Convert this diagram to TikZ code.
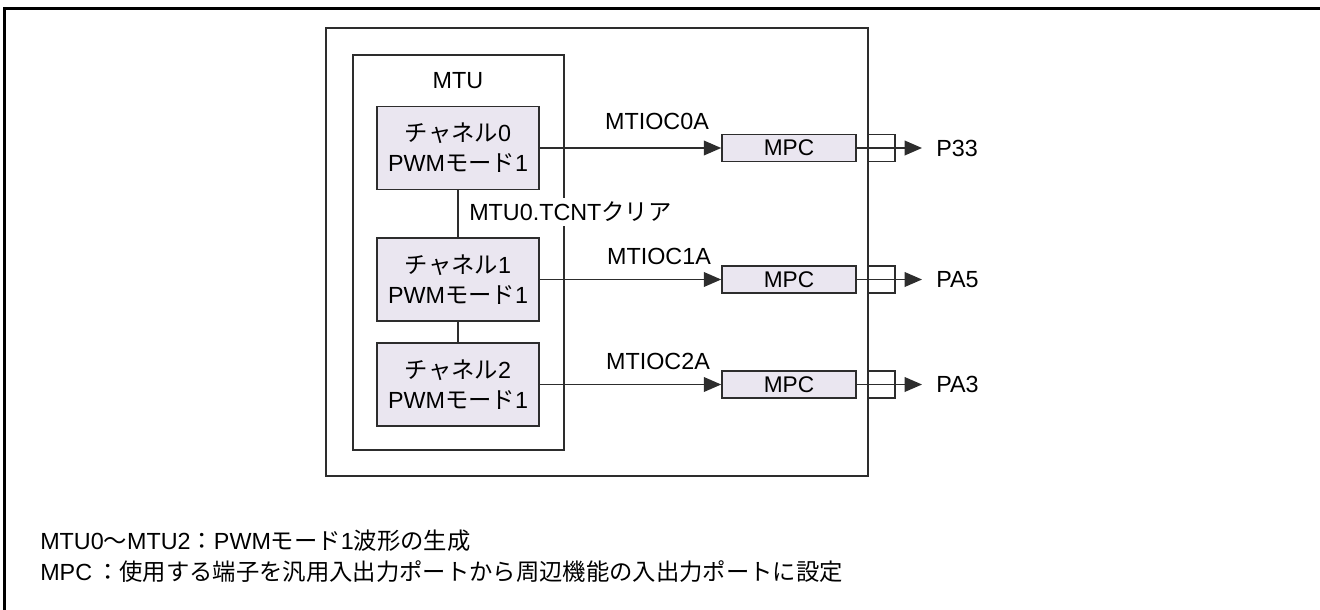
\documentclass[tikz,border=0pt]{standalone}
\usepackage{fontspec}
\setmainfont{Liberation Sans}
\newfontfamily\jpfont{Noto Sans CJK JP}
\newcommand{\jtxt}[1]{{\jpfont #1}}
\usetikzlibrary{arrows.meta}

\definecolor{lineg}{RGB}{45,45,45}
\definecolor{chfill}{RGB}{234,230,240}

\tikzset{
  frm/.style={draw=lineg, line width=1.1pt},
  chbox/.style={draw=lineg, line width=1.2pt, fill=chfill, minimum width=121.5pt, minimum height=62pt, align=center, inner sep=0pt, font=\fontsize{17.5}{22.5}\selectfont},
  mpcbox/.style={draw=lineg, line width=1.2pt, fill=chfill, minimum width=100.5pt, minimum height=20pt, inner sep=0pt, font=\fontsize{17}{19}\selectfont},
  pinbox/.style={draw=lineg, line width=1.1pt, minimum width=20pt, minimum height=20pt, inner sep=0pt},
  lbl/.style={inner sep=1.5pt, font=\fontsize{17.5}{20}\selectfont},
  sig/.style={draw=lineg, line width=1.1pt, -{Triangle[length=13pt,width=11pt]}},
}

\begin{document}
\begin{tikzpicture}[x=0.75pt,y=0.75pt,yscale=-1,xscale=1]
\useasboundingbox (0,0) rectangle (1320,610);

%Frame
\draw [line width=2.25pt] (1320,9) -- (4,9) -- (4,610) ;
%Outer block
\draw [frm] (326,28) rectangle (868,476) ;
%MTU block
\draw [frm] (353,55) rectangle (564,450) ;

% Text Node
\node [lbl, fill=white] (mtu) at (458,81) {MTU};

%Channels
\node [chbox] (ch0) at (458,148) {\jtxt{チャネル}0\\PWM\jtxt{モード}1};
\node [chbox] (ch1) at (458,279.5) {\jtxt{チャネル}1\\PWM\jtxt{モード}1};
\node [chbox] (ch2) at (458,384.5) {\jtxt{チャネル}2\\PWM\jtxt{モード}1};

\draw [frm] (ch0.south) -- (ch1.north) ;
\draw [frm] (ch1.south) -- (ch2.north) ;

% Text Node
\node [lbl, fill=white, anchor=west, inner sep=3pt] (clr) at (465,212) {MTU0.TCNT\jtxt{クリア}};

%MPC blocks
\node [mpcbox] (mpc0) at (789,148) {MPC};
\node [mpcbox] (mpc1) at (789,279.5) {MPC};
\node [mpcbox] (mpc2) at (789,384.5) {MPC};

%Pins
\node [pinbox] (pin0) at (881.5,148) {};
\node [pinbox] (pin1) at (881.5,279.5) {};
\node [pinbox] (pin2) at (881.5,384.5) {};

\coordinate (tip0) at (922,148);
\coordinate (tip1) at (922,279.5);
\coordinate (tip2) at (922,384.5);

%Signals
\draw [sig] (ch0.east) -- (mpc0.west) ;
\draw [sig] (ch1.east) -- (mpc1.west) ;
\draw [sig] (ch2.east) -- (mpc2.west) ;
\node [lbl] (s0) at (657,121) {MTIOC0A};
\node [lbl] (s1) at (659,256) {MTIOC1A};
\node [lbl] (s2) at (658,361) {MTIOC2A};

\draw [sig] (mpc0.east) -- (tip0) ;
\draw [sig] (mpc1.east) -- (tip1) ;
\draw [sig] (mpc2.east) -- (tip2) ;

% Text Node
\node [lbl, anchor=west] (p0) at (934,148) {P33};
\node [lbl, anchor=west] (p1) at (934,279.5) {PA5};
\node [lbl, anchor=west] (p2) at (934,384.5) {PA3};

% Notes
\node [lbl, anchor=west] (note0) at (38,541) {MTU0\jtxt{～}MTU2\jtxt{：}PWM\jtxt{モード}1\jtxt{波形の生成}};
\node [lbl, anchor=west] (note1) at (38,572) {MPC\,\jtxt{：使用する端子を汎用入出力ポートから周辺機能の入出力ポートに設定}};

\end{tikzpicture}
\end{document}
